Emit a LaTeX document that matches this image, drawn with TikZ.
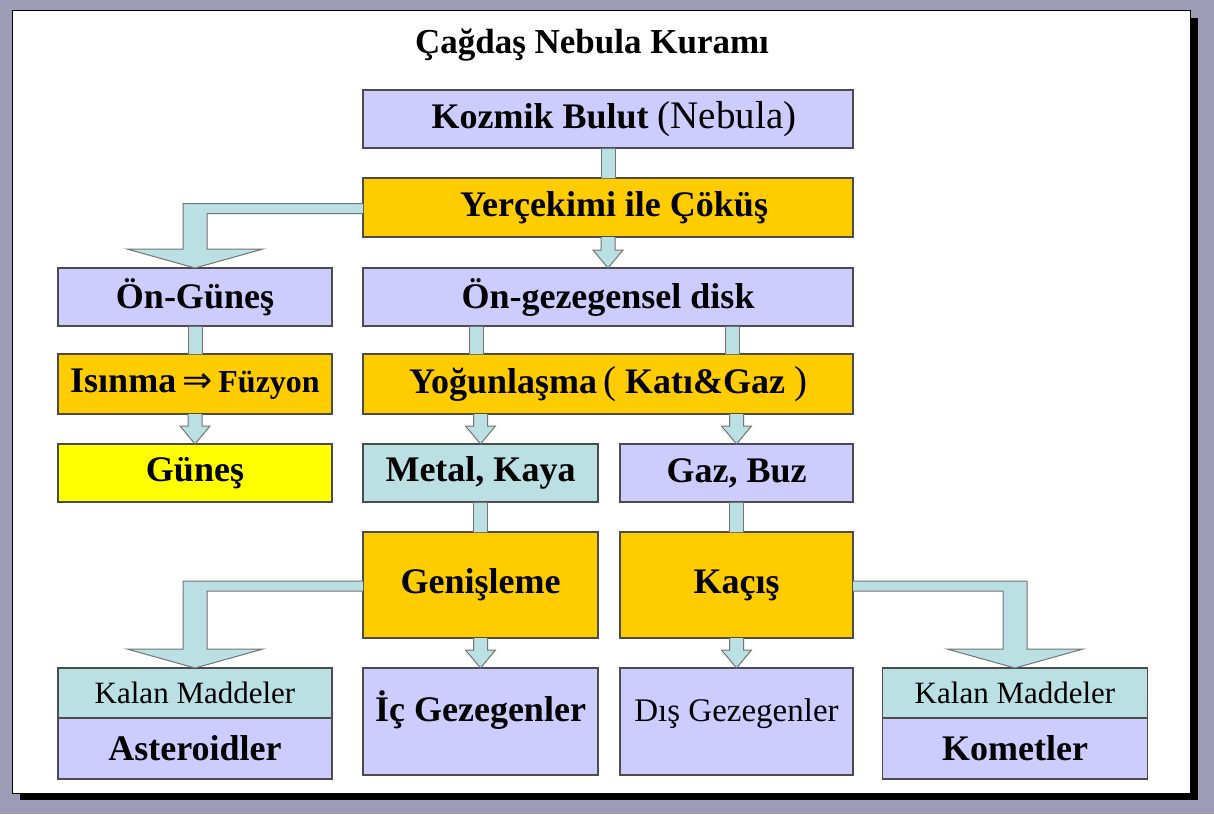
\documentclass[tikz,border=0pt]{standalone}
\usepackage{fontspec}
\setmainfont{Liberation Serif}
\newfontfamily\arrowfont{DejaVu Sans}
\usetikzlibrary{positioning, calc}

\definecolor{lavender}{HTML}{CCCCFF}
\definecolor{amber}{HTML}{FFCC00}
\definecolor{sunyellow}{HTML}{FFFF00}
\definecolor{pale}{HTML}{BBE0E3}
\definecolor{slide}{HTML}{9D9BB5}

% straight pipe between two boxes
\newcommand{\pipeto}[2]{%
  \filldraw[pipe] ($(#2.north |- #1.south)+(-7,0)$) rectangle ($(#2.north)+(7,0)$);}
% pipe with a head
\newcommand{\dropto}[2]{%
  \filldraw[pipe] ($(#2.north |- #1.south)+(-7,0)$) -- ($(#2.north)+(-7,-18)$)
    -- ($(#2.north)+(-15,-18)$) -- (#2.north) -- ($(#2.north)+(15,-18)$)
    -- ($(#2.north)+(7,-18)$) -- ($(#2.north |- #1.south)+(7,0)$);}
% bent pipe out of a side of a box, #3 = -1 left, 1 right
\newcommand{\bendto}[3]{%
  \pgfmathsetmacro\bendA{#3*12}\pgfmathsetmacro\bendB{#3*68}%
  \pgfmathsetmacro\bendC{0-(#3)*12}\pgfmathsetmacro\bendD{0-(#3)*68}%
  \filldraw[pipe] ($(#1)+(0,-4)$) -- ($(#2.north |- #1)+(\bendA,-4)$)
    -- ($(#2.north)+(\bendA,-19)$) -- ($(#2.north)+(\bendB,-19)$) -- (#2.north)
    -- ($(#2.north)+(\bendD,-19)$) -- ($(#2.north)+(\bendC,-19)$)
    -- ($(#2.north |- #1)+(\bendC,6)$) -- ($(#1)+(0,6)$);}

\begin{document}
\begin{tikzpicture}[x=1pt, y=-1pt, node distance=30pt,
  box/.style={draw=black!70, line width=1.2pt, inner sep=0pt, outer sep=0pt,
    font=\bfseries\fontsize{36}{40}\selectfont},
  lav/.style={box, fill=lavender},
  amb/.style={box, fill=amber},
  pal/.style={box, fill=pale},
  wide/.style={minimum width=490pt},
  side/.style={minimum width=274pt},
  half/.style={minimum width=235pt},
  thin/.style={font=\mdseries\fontsize{31}{36}\selectfont},
  pipe/.style={fill=pale, draw=black!55, line width=1pt}]

% slide frame
\fill[slide] (0,0) rectangle (1214,814);
\fill[black] (20,18) rectangle (1198,800);
\filldraw[fill=white, draw=black, line width=1pt] (12,10) rectangle (1190,793);

\node[font=\bfseries\fontsize{35}{40}\selectfont] (title) at (592,45)
{Çağdaş Nebula Kuramı};

% middle column
\node[lav, wide, minimum height=58pt] (kozmik) at (608,119)
{\hspace*{12pt}Kozmik Bulut {\mdseries\fontsize{39}{44}\selectfont(Nebula)}};
\node[amb, wide, minimum height=59pt] (cokus) [below=30pt of kozmik]
{\hspace*{12pt}Yerçekimi ile Çöküş};
\node[lav, wide, minimum height=58pt] (ongez) [below=31pt of cokus]
{Ön-gezegensel disk};
\node[amb, wide, minimum height=60pt] (yogun) [below=28pt of ongez]
{Yoğunlaşma\,{\mdseries\fontsize{39}{44}\selectfont(}\ Katı\&Gaz\ {\mdseries\fontsize{39}{44}\selectfont)}};

\node[pal, half, minimum height=58pt] (metal)
  [below=30pt of yogun.south west, anchor=north west] {Metal, Kaya};
\node[lav, minimum width=233pt, minimum height=58pt] (gazbuz)
  [below=30pt of yogun.south east, anchor=north east] {Gaz, Buz};
\node[amb, half, minimum height=106pt] (genis) [below=30pt of metal] {Genişleme};
\node[amb, minimum width=233pt, minimum height=106pt] (kacis) [below=30pt of gazbuz] {Kaçış};
\node[lav, half, text height=53pt, text depth=54pt] (ic) [below=30pt of genis]
{İç Gezegenler};
\node[lav, minimum width=233pt, text height=53pt, text depth=54pt,
  font=\mdseries\fontsize{33}{38}\selectfont] (dis) [below=30pt of kacis]
{Dış Gezegenler};

% left column
\node[lav, side, minimum height=58pt] (ongunes) at (195,297) {Ön-Güneş};
\node[amb, side, minimum height=60pt] (isinma) [below=28pt of ongunes]
{Isınma\,{\mdseries\arrowfont\fontsize{36}{40}\selectfont ⇒}\,{\fontsize{32}{36}\selectfont Füzyon}};
\node[box, side, fill=sunyellow, minimum height=58pt] (gunes) [below=30pt of isinma]
{Güneş};
\node[pal, side, thin, minimum height=50pt] (kalan1) at (195,693) {Kalan Maddeler};
\node[lav, side, minimum height=61pt] (aster) [below=0pt of kalan1] {Asteroidler};

% right column
\node[pal, thin, minimum width=265pt, minimum height=50pt] (kalan2) at (1015,693)
{Kalan Maddeler};
\node[lav, minimum width=265pt, minimum height=61pt] (komet) [below=0pt of kalan2]
{Kometler};

% the block arrows
\pipeto{kozmik}{cokus}
\dropto{cokus}{ongez}
\bendto{cokus.west}{ongunes}{-1}
\pipeto{ongunes}{isinma}
\dropto{isinma}{gunes}
\filldraw[pipe] ($(ongez.south -| metal.north)+(-11,0)$) rectangle ($(yogun.north -| metal.north)+(3,0)$);
\filldraw[pipe] ($(ongez.south -| gazbuz.north)+(-11,0)$) rectangle ($(yogun.north -| gazbuz.north)+(3,0)$);
\dropto{yogun}{metal}
\dropto{yogun}{gazbuz}
\pipeto{metal}{genis}
\pipeto{gazbuz}{kacis}
\dropto{genis}{ic}
\dropto{kacis}{dis}
\bendto{genis.west}{kalan1}{-1}
\bendto{kacis.east}{kalan2}{1}

\end{tikzpicture}
\end{document}
